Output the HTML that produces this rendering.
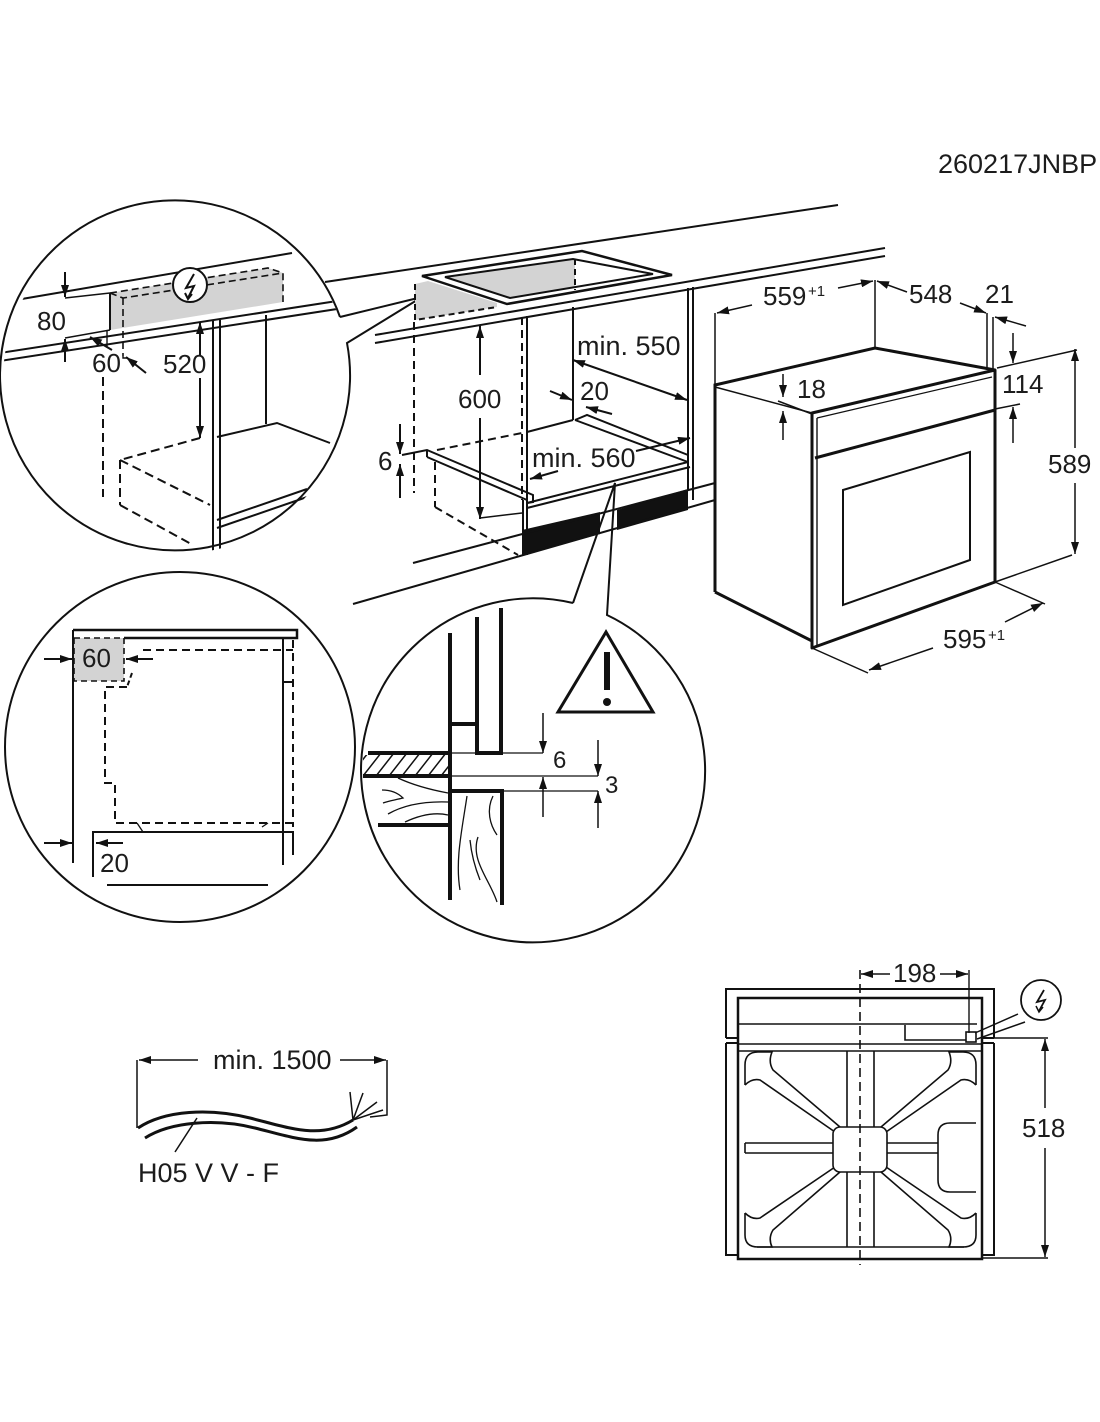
<!DOCTYPE html>
<html><head><meta charset="utf-8">
<style>
html,body{margin:0;padding:0;background:#fff;}
svg{display:block;}
text{font-family:"Liberation Sans",Arial,sans-serif;fill:#1c1c1c;}
</style></head><body>
<svg width="1100" height="1422" viewBox="0 0 1100 1422" xmlns="http://www.w3.org/2000/svg">
<defs>
<marker id="a" markerUnits="userSpaceOnUse" markerWidth="12" markerHeight="8" refX="12" refY="4" orient="auto"><path d="M0,0 L12,4 L0,8 z" fill="#111"/></marker>
<marker id="s" markerUnits="userSpaceOnUse" markerWidth="12" markerHeight="8" refX="12" refY="4" orient="auto-start-reverse"><path d="M0,0 L12,4 L0,8 z" fill="#111"/></marker>
<clipPath id="c1"><circle cx="177" cy="380" r="174"/></clipPath>
<clipPath id="c2"><circle cx="180" cy="747" r="174"/></clipPath>
<clipPath id="c3"><circle cx="530" cy="768" r="171"/></clipPath>
<clipPath id="hb"><rect x="363" y="755" width="86" height="20"/></clipPath>
</defs>

<g stroke="#111" stroke-width="2" fill="none">

<!-- ===== TOP-LEFT CIRCLE ===== -->
<path d="M340,317 L422,297 L347,343 A175,175 0 1 1 340,317"/>
<g clip-path="url(#c1)">
  <line x1="10" y1="301" x2="292" y2="253"/>
  <polygon points="110,293 268,268 283,273 283,302 110,330" fill="#d3d3d3" stroke="none"/>
  <line x1="0" y1="353" x2="350" y2="299"/>
  <line x1="0" y1="361" x2="350" y2="307"/>
  <line x1="110" y1="293" x2="110" y2="330"/>
  <polyline points="110,293 268,268 283,273 283,302" stroke-dasharray="7,4" stroke-width="1.6"/>
  <polyline points="110,293 123,298 283,273" stroke-dasharray="7,4" stroke-width="1.6"/>
  <line x1="123" y1="298" x2="123" y2="356" stroke-dasharray="7,4" stroke-width="1.6"/>
  <line x1="65" y1="298" x2="110" y2="293" stroke-width="1.4"/>
  <line x1="65" y1="338" x2="110" y2="330" stroke-width="1.4"/>
  <line x1="65" y1="272" x2="65" y2="297" marker-end="url(#a)"/>
  <line x1="65" y1="362" x2="65" y2="339" marker-end="url(#a)"/>
  <line x1="107" y1="330" x2="107" y2="347" stroke-width="1.4"/>
  <line x1="112" y1="350" x2="90" y2="337" marker-end="url(#a)"/>
  <polyline points="123,356 123,358 128,358" stroke-width="1.4"/>
  <line x1="146" y1="373" x2="126" y2="357" marker-end="url(#a)"/>
  <line x1="103" y1="377" x2="103" y2="497" stroke-dasharray="9,5"/>
  <line x1="200" y1="355" x2="200" y2="322" marker-end="url(#a)"/>
  <line x1="200" y1="378" x2="200" y2="438" marker-end="url(#a)"/>
  <line x1="200" y1="438" x2="120" y2="460" stroke-dasharray="9,5"/>
  <line x1="120" y1="460" x2="120" y2="505" stroke-dasharray="9,5"/>
  <line x1="120" y1="460" x2="210" y2="505" stroke-dasharray="9,5"/>
  <line x1="120" y1="505" x2="193" y2="545" stroke-dasharray="9,5"/>
  <line x1="213" y1="320" x2="213" y2="560"/>
  <line x1="220" y1="320" x2="220" y2="560"/>
  <line x1="266" y1="315" x2="266" y2="424"/>
  <polyline points="217,437 277,423 330,443"/>
  <line x1="217" y1="520" x2="307" y2="489"/>
  <line x1="217" y1="528" x2="310" y2="496"/>
  <circle cx="190" cy="285" r="17" fill="#fff"/>
  <path d="M194,274 L186,288 L194,286 L188,298"/>
  <path d="M185,293 L188,299 L192,294"/>
</g>

<!-- ===== MAIN CABINET ===== -->
<line x1="325" y1="282" x2="838" y2="205"/>
<line x1="375" y1="335" x2="885" y2="248"/>
<line x1="375" y1="343" x2="885" y2="256"/>
<polygon points="415,284 428,281 497,303 497,307 415,320" fill="#d3d3d3" stroke="none"/>
<polygon points="445,277 575,259 575,287 510,298" fill="#d3d3d3" stroke="none"/>
<polygon points="422,276 582,251 672,275 507,304" stroke-width="2.5"/>
<polygon points="445,277 573,259 653,274 510,298" stroke-width="2"/>
<line x1="575" y1="259" x2="575" y2="290" stroke-dasharray="6,4"/>
<polyline points="415,284 415,320 497,307" stroke-dasharray="6,4"/>
<line x1="414" y1="322" x2="414" y2="493" stroke-dasharray="8,5"/>
<line x1="522" y1="317" x2="522" y2="500" stroke-dasharray="8,5"/>
<line x1="527" y1="316" x2="527" y2="555"/>
<line x1="523" y1="500" x2="523" y2="555"/>
<line x1="573" y1="307" x2="573" y2="420"/>
<line x1="688" y1="288" x2="688" y2="490"/>
<line x1="693" y1="287" x2="693" y2="500"/>
<line x1="527" y1="432" x2="573" y2="420"/>
<line x1="437" y1="450" x2="522" y2="433" stroke-dasharray="8,5"/>
<polyline points="402,455 427,450 533,495 533,502 527,503"/>
<line x1="427" y1="450" x2="427" y2="457"/>
<line x1="427" y1="457" x2="527" y2="500"/>
<polyline points="575,420 587,415 688,455"/>
<line x1="575" y1="420" x2="688" y2="462"/>
<line x1="527" y1="503" x2="688" y2="462"/>
<line x1="527" y1="508" x2="690" y2="467"/>
<line x1="435" y1="462" x2="435" y2="507" stroke-dasharray="8,5"/>
<line x1="435" y1="507" x2="518" y2="555" stroke-dasharray="8,5"/>
<line x1="480" y1="375" x2="480" y2="326" marker-end="url(#a)"/>
<line x1="480" y1="418" x2="480" y2="519" marker-end="url(#a)"/>
<line x1="480" y1="518" x2="522" y2="513" stroke-width="1.5"/>
<line x1="400" y1="424" x2="400" y2="454" marker-end="url(#a)"/>
<line x1="400" y1="498" x2="400" y2="464" marker-end="url(#a)"/>
<line x1="573" y1="360" x2="687" y2="400" marker-start="url(#s)" marker-end="url(#a)"/>
<line x1="550" y1="391" x2="572" y2="400" marker-end="url(#a)"/>
<line x1="612" y1="414" x2="586" y2="407" marker-end="url(#a)"/>
<line x1="558" y1="471" x2="530" y2="479" marker-end="url(#a)"/>
<line x1="636" y1="451" x2="690" y2="438" marker-end="url(#a)"/>
<polygon points="522,530 600,512 600,534 522,555" fill="#111" stroke="none"/>
<polygon points="617,510 688,489 688,510 617,530" fill="#111" stroke="none"/>
<line x1="413" y1="563" x2="715" y2="483"/>
<line x1="353" y1="604" x2="715" y2="500"/>

<!-- ===== BOTTOM-MIDDLE CIRCLE ===== -->
<path d="M573,603 L615,483 L607,615 A172,172 0 1 1 573,603"/>
<g clip-path="url(#c3)">
  <g clip-path="url(#hb)" stroke-width="1.5">
    <line x1="350" y1="776" x2="368" y2="753"/><line x1="363" y1="776" x2="381" y2="753"/>
    <line x1="376" y1="776" x2="394" y2="753"/><line x1="389" y1="776" x2="407" y2="753"/>
    <line x1="402" y1="776" x2="420" y2="753"/><line x1="415" y1="776" x2="433" y2="753"/>
    <line x1="428" y1="776" x2="446" y2="753"/><line x1="441" y1="776" x2="459" y2="753"/>
  </g>
  <g stroke-width="1.3">
    <path d="M398,778 C415,786 432,790 448,793"/>
    <path d="M382,790 C392,790 398,793 403,798 C395,800 388,801 383,803"/>
    <path d="M388,814 C402,806 420,801 448,802"/>
    <path d="M405,822 C420,815 435,812 448,815"/>
    <path d="M467,796 C462,830 455,860 460,890"/>
    <path d="M478,837 C470,860 490,880 497,902"/>
    <path d="M493,796 C486,810 490,825 497,835"/>
    <path d="M470,840 C472,860 478,875 480,880"/>
  </g>
  <g stroke-width="4">
    <line x1="450" y1="633" x2="450" y2="900"/>
    <polyline points="477,617 477,753 501,753 501,608"/>
    <line x1="450" y1="724" x2="477" y2="724"/>
    <line x1="368" y1="753" x2="450" y2="753"/>
    <line x1="363" y1="776" x2="450" y2="776"/>
    <polyline points="450,791 502,791 502,905"/>
    <line x1="378" y1="825" x2="450" y2="825"/>
  </g>
  <line x1="450" y1="753" x2="543" y2="753" stroke-width="1.3"/>
  <line x1="450" y1="776" x2="598" y2="776" stroke-width="1.3"/>
  <line x1="502" y1="791" x2="598" y2="791" stroke-width="1.3"/>
  <line x1="543" y1="713" x2="543" y2="753" marker-end="url(#a)" stroke-width="1.5"/>
  <line x1="543" y1="817" x2="543" y2="777" marker-end="url(#a)" stroke-width="1.5"/>
  <line x1="598" y1="740" x2="598" y2="776" marker-end="url(#a)" stroke-width="1.5"/>
  <line x1="598" y1="828" x2="598" y2="791" marker-end="url(#a)" stroke-width="1.5"/>
  <polygon points="606,632 558,712 653,712" stroke-width="3" stroke-linejoin="miter"/>
  <rect x="604" y="652" width="6" height="38" fill="#111" stroke="none"/>
  <circle cx="607" cy="702" r="4" fill="#111" stroke="none"/>
</g>

<!-- ===== LEFT-BOTTOM CIRCLE ===== -->
<circle cx="180" cy="747" r="175"/>
<g clip-path="url(#c2)">
  <rect x="74" y="638" width="50" height="43" fill="#d3d3d3" stroke-dasharray="6,4" stroke-width="1.6"/>
  <line x1="73" y1="630" x2="73" y2="863"/>
  <polyline points="73,630 297,630 297,638 124,638" stroke-width="2.5"/>
  <line x1="283" y1="638" x2="283" y2="865"/>
  <line x1="293" y1="640" x2="293" y2="827" stroke-dasharray="8,5"/>
  <line x1="283" y1="682" x2="293" y2="682"/>
  <line x1="143" y1="650" x2="293" y2="650" stroke-dasharray="8,5"/>
  <line x1="132" y1="673" x2="127" y2="687" stroke-dasharray="5,3"/>
  <polyline points="127,687 105,687 105,783 115,783 115,823 293,823" stroke-dasharray="8,5"/>
  <line x1="137" y1="823" x2="143" y2="832" stroke-width="1.3"/>
  <line x1="262" y1="827" x2="268" y2="823" stroke-width="1.3"/>
  <polyline points="93,877 93,832 293,832 293,855"/>
  <line x1="107" y1="885" x2="268" y2="885"/>
  <line x1="44" y1="659" x2="72" y2="659" marker-end="url(#a)"/>
  <line x1="153" y1="659" x2="126" y2="659" marker-end="url(#a)"/>
  <line x1="44" y1="843" x2="72" y2="843" marker-end="url(#a)"/>
  <line x1="123" y1="843" x2="96" y2="843" marker-end="url(#a)"/>
</g>

<!-- ===== OVEN ===== -->
<path d="M715,592 V385 L875,348 L995,370" stroke-width="3"/>
<line x1="715" y1="387" x2="812" y2="413" stroke-width="1.5"/>
<line x1="715" y1="592" x2="812" y2="641" stroke-width="3"/>
<path d="M812,648 V413 L995,370 V582 Z" stroke-width="3" stroke-linejoin="round"/>
<line x1="817" y1="418" x2="817" y2="646" stroke-width="1.4"/>
<line x1="817" y1="418" x2="992" y2="377" stroke-width="1.2"/>
<line x1="815" y1="458" x2="995" y2="410" stroke-width="3"/>
<polygon points="843,490 970,452 970,560 843,605" stroke-width="2"/>
<g stroke-width="1.5">
  <line x1="715" y1="313" x2="715" y2="385"/>
  <line x1="875" y1="280" x2="875" y2="348"/>
  <line x1="752" y1="305" x2="717" y2="313" marker-end="url(#a)"/>
  <line x1="838" y1="288" x2="873" y2="281" marker-end="url(#a)"/>
  <line x1="907" y1="292" x2="877" y2="281" marker-end="url(#a)"/>
  <line x1="960" y1="303" x2="986" y2="313" marker-end="url(#a)"/>
  <line x1="987" y1="313" x2="987" y2="370"/>
  <line x1="993" y1="317" x2="993" y2="370"/>
  <line x1="1026" y1="326" x2="995" y2="317" marker-end="url(#a)"/>
  <line x1="997" y1="368" x2="1077" y2="350"/>
  <line x1="995" y1="409" x2="1020" y2="404"/>
  <line x1="1013" y1="333" x2="1013" y2="363" marker-end="url(#a)"/>
  <line x1="1013" y1="443" x2="1013" y2="407" marker-end="url(#a)"/>
  <line x1="1075" y1="448" x2="1075" y2="349" marker-end="url(#a)"/>
  <line x1="1075" y1="483" x2="1075" y2="554" marker-end="url(#a)"/>
  <line x1="995" y1="582" x2="1072" y2="555"/>
  <line x1="812" y1="648" x2="868" y2="673"/>
  <line x1="995" y1="582" x2="1045" y2="604"/>
  <line x1="933" y1="648" x2="869" y2="670" marker-end="url(#a)"/>
  <line x1="1005" y1="622" x2="1043" y2="603" marker-end="url(#a)"/>
  <line x1="783" y1="374" x2="783" y2="397" marker-end="url(#a)"/>
  <line x1="783" y1="440" x2="783" y2="411" marker-end="url(#a)"/>
  <line x1="778" y1="401" x2="812" y2="414"/>
</g>

<!-- ===== BACK VIEW ===== -->
<path d="M726,1038 V989 H994 V1038"/>
<path d="M726,1043 V1255 H738 M982,1255 H994 V1043"/>
<line x1="726" y1="1038" x2="738" y2="1038"/>
<line x1="726" y1="1043" x2="738" y2="1043"/>
<line x1="982" y1="1038" x2="994" y2="1038"/>
<line x1="982" y1="1043" x2="994" y2="1043"/>
<rect x="738" y="998" width="244" height="261" stroke-width="2.5"/>
<line x1="738" y1="1024" x2="977" y2="1024" stroke-width="1.6"/>
<line x1="738" y1="1044" x2="982" y2="1044" stroke-width="1.6"/>
<line x1="738" y1="1051" x2="982" y2="1051" stroke-width="1.6"/>
<polyline points="905,1025 905,1040 966,1040" stroke-width="1.6"/>
<rect x="966" y="1032" width="10" height="10" stroke-width="1.6"/>
<!-- rack -->
<g stroke-width="1.6">
  <line x1="847" y1="1051" x2="847" y2="1247"/>
  <line x1="874" y1="1051" x2="874" y2="1247"/>
  <line x1="745" y1="1143" x2="976" y2="1143"/>
  <line x1="745" y1="1153" x2="976" y2="1153"/>
  <line x1="745" y1="1143" x2="745" y2="1153"/>
  <line x1="757" y1="1247" x2="964" y2="1247"/>
  <path d="M745,1085 V1065 Q745,1052 758,1052 H772 Q768,1062 773,1070 L840,1127"/>
  <path d="M745,1085 Q752,1078 760,1080 L835,1132"/>
  <path d="M976,1085 V1065 Q976,1052 963,1052 H949 Q953,1062 948,1070 L881,1127"/>
  <path d="M976,1085 Q969,1078 961,1080 L886,1132"/>
  <path d="M745,1213 V1235 Q745,1247 758,1247 H772 Q768,1238 773,1230 L840,1172"/>
  <path d="M745,1213 Q752,1220 760,1218 L835,1167"/>
  <path d="M976,1213 V1235 Q976,1247 963,1247 H949 Q953,1238 948,1230 L881,1172"/>
  <path d="M976,1213 Q969,1220 961,1218 L886,1167"/>
  <rect x="833" y="1127" width="54" height="45" rx="7" fill="#fff"/>
  <path d="M976,1123 H950 Q938,1123 938,1135 V1180 Q938,1192 950,1192 H976" fill="#fff"/>
</g>
<line x1="860" y1="970" x2="860" y2="1265" stroke-dasharray="9,5" stroke-width="1.6"/>
<line x1="969" y1="970" x2="969" y2="1033" stroke-width="1.4"/>
<line x1="890" y1="974" x2="861" y2="974" marker-end="url(#a)" stroke-width="1.5"/>
<line x1="940" y1="974" x2="968" y2="974" marker-end="url(#a)" stroke-width="1.5"/>
<line x1="982" y1="1038" x2="1048" y2="1038" stroke-width="1.4"/>
<line x1="982" y1="1258" x2="1048" y2="1258" stroke-width="1.4"/>
<line x1="1045" y1="1108" x2="1045" y2="1039" marker-end="url(#a)" stroke-width="1.5"/>
<line x1="1045" y1="1148" x2="1045" y2="1257" marker-end="url(#a)" stroke-width="1.5"/>
<line x1="1018" y1="1014" x2="975" y2="1033" stroke-width="1.5"/>
<line x1="1025" y1="1022" x2="977" y2="1039" stroke-width="1.5"/>
<circle cx="1041" cy="1000" r="20" fill="#fff" stroke-width="1.8"/>
<path d="M1044,990 L1037,1002 L1045,1000 L1039,1011" stroke-width="1.8"/>
<path d="M1036,1006 L1039,1012 L1043,1007" stroke-width="1.5"/>

<!-- ===== CABLE ===== -->
<line x1="137" y1="1060" x2="137" y2="1128" stroke-width="1.5"/>
<polyline points="387,1060 387,1115 370,1117" stroke-width="1.5"/>
<line x1="198" y1="1060" x2="139" y2="1060" marker-end="url(#a)" stroke-width="1.5"/>
<line x1="340" y1="1060" x2="386" y2="1060" marker-end="url(#a)" stroke-width="1.5"/>
<path d="M138,1128 C165,1110 210,1108 250,1118 C290,1128 320,1140 353,1120" stroke-width="3"/>
<path d="M145,1138 C170,1122 215,1118 255,1128 C295,1138 325,1150 357,1127" stroke-width="3"/>
<g stroke-width="1.5">
  <line x1="353" y1="1120" x2="350" y2="1092"/>
  <line x1="353" y1="1120" x2="363" y2="1093"/>
  <line x1="353" y1="1120" x2="377" y2="1102"/>
  <line x1="353" y1="1120" x2="383" y2="1110"/>
  <line x1="197" y1="1118" x2="175" y2="1152"/>
</g>
</g>

<!-- ===== TEXT ===== -->
<g font-size="26">
<text x="938" y="173" font-size="27">260217JNBP</text>
<text x="37" y="330">80</text>
<text x="92" y="372">60</text>
<text x="163" y="373">520</text>
<text x="458" y="408">600</text>
<text x="378" y="470">6</text>
<text x="577" y="355" font-size="27">min. 550</text>
<text x="580" y="400">20</text>
<text x="532" y="467" font-size="27">min. 560</text>
<text x="763" y="305">559</text><text x="808" y="296" font-size="15">+1</text>
<text x="909" y="303">548</text>
<text x="985" y="303">21</text>
<text x="797" y="398">18</text>
<text x="1002" y="393">114</text>
<text x="1048" y="473">589</text>
<text x="943" y="648">595</text><text x="988" y="640" font-size="15">+1</text>
<text x="82" y="667">60</text>
<text x="100" y="872">20</text>
<text x="553" y="768" font-size="24">6</text>
<text x="605" y="793" font-size="24">3</text>
<text x="893" y="982">198</text>
<text x="1022" y="1137">518</text>
<text x="213" y="1069" font-size="27">min. 1500</text>
<text x="138" y="1182" font-size="27">H05 V V - F</text>
</g>
</svg>
</body></html>
